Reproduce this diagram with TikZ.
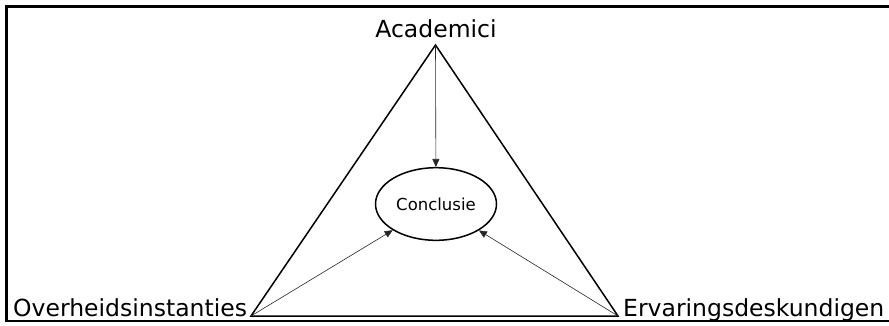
\documentclass[tikz,border=0pt]{standalone}
\usepackage{fontspec}
\setmainfont{DejaVu Sans}
\usepackage{tikz}
\usetikzlibrary{calc,positioning,shapes.geometric,arrows.meta}
\tikzset{
  frameline/.style = {draw=black, line width=2.2pt},
  sideline/.style  = {draw=black, line width=1.5pt, line join=miter},
  pointer/.style   = {draw=black!85, line width=0.6pt,
                      -{Triangle[length=8pt, width=7pt]}},
  roundbox/.style  = {ellipse, draw=black, line width=1.5pt, inner sep=0pt,
                      minimum width=121pt, minimum height=72.6pt,
                      font=\fontsize{16.5}{19}\selectfont},
  partylab/.style  = {font=\fontsize{23.5}{27}\selectfont, inner sep=0pt},
}

\begin{document}
\begin{tikzpicture}[x=1pt, y=-1pt]

    % ---------- page and frame -----------------------------------------
    \useasboundingbox (0,0) rectangle (889,325);
    \draw[frameline] (895,6.5) -- (6.5,6.5) -- (6.5,321) -- (895,321);

    % ---------- corners of the triangle --------------------------------
    \coordinate (top)   at (435.5,45);
    \coordinate (left)  at (251,316);
    \coordinate (right) at (618,316);

    \draw[sideline] (top) -- (left) -- (right) -- cycle;

    % ---------- the three parties --------------------------------------
    \node[partylab, anchor=base]      (acad)     at (436,37)  {Academici};
    \node[partylab, anchor=base west] (overheid) at (13,316)  {Overheidsinstanties};
    \node[partylab, anchor=base west] (ervaring) at (623,316) {Ervaringsdeskundigen};

    % ---------- conclusion ---------------------------------------------
    \node[roundbox] (concl) at (436,204) {Conclusie};

    \foreach \src in {top, left, right}
      {\draw[pointer] (\src) -- (concl);}

  \end{tikzpicture}
\end{document}
